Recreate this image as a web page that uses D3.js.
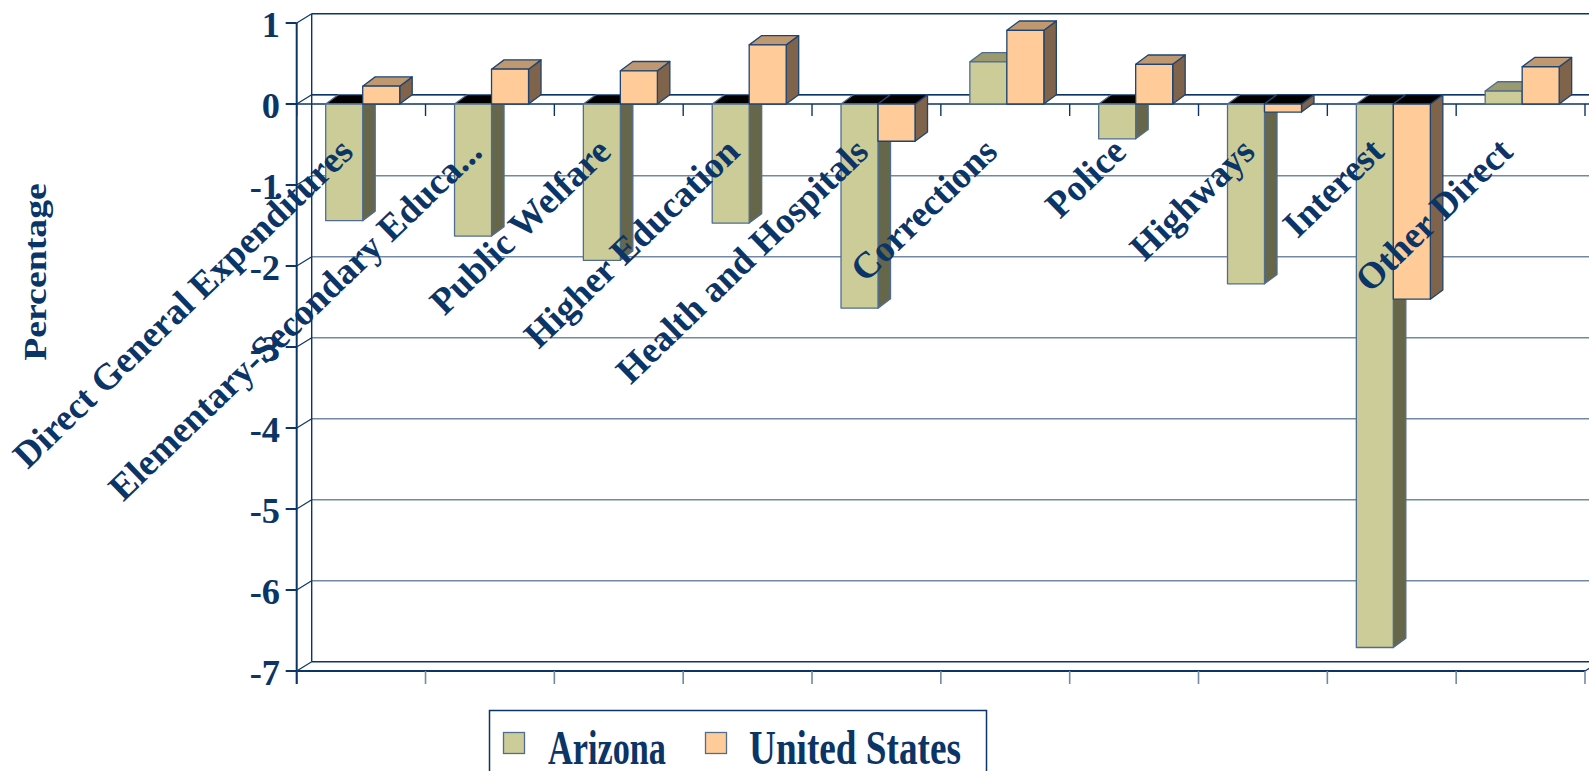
<!DOCTYPE html>
<html><head><meta charset="utf-8">
<script src="https://cdn.jsdelivr.net/npm/d3@7/dist/d3.min.js"></script>
<style>
html,body{margin:0;padding:0;background:#fff;overflow:hidden}
svg{display:block}
text{font-family:"Liberation Serif","Times New Roman",serif;font-weight:bold;fill:#0b3566}
</style></head>
<body>
<svg id="chart" width="1589" height="771"></svg>
<script>
const categories = ["Direct General Expenditures","Elementary-Secondary Educa...","Public Welfare","Higher Education","Health and Hospitals","Corrections","Police","Highways","Interest","Other Direct"];
const seriesNames = ["Arizona","United States"];
const arizona = [-1.44,-1.63,-1.93,-1.47,-2.52,0.52,-0.43,-2.22,-6.71,0.16];
const unitedStates = [0.22,0.43,0.41,0.73,-0.46,0.91,0.49,-0.10,-2.41,0.46];
const yTicks = [1,0,-1,-2,-3,-4,-5,-6,-7];
const yTickLabels = ["1","0","-1","-2","-3","-4","-5","-6","-7"];
const yTitle = "Percentage";

const svg = d3.select("#chart");
const navy = "#0b3566";
const gridC = "#7189a6";
const X0 = 296.7, X1 = 1585;
const WDX = 15, WDY = -9.3;   // wall depth
const BDX = 12.5, BDY = -9.3; // bar depth

const x = d3.scaleBand().domain(categories).range([X0, X1]).padding(0);
const xs = d3.scaleBand().domain(seriesNames).range([29, 29 + 74]).padding(0);
const y = d3.scaleLinear().domain([-7, 1]).range([671, 23]);

const colors = {
  "Arizona": {front:"#cccc99", side:"#66664a", top:"#9a9a6e", stroke:"#4f6d8f"},
  "United States": {front:"#ffcc99", side:"#7f634a", top:"#c09870", stroke:"#1f4470"}
};

const g = svg.append("g");

// back wall gridlines + left wall diagonals
yTicks.forEach(t => {
  const yy = y(t);
  const dark = (t === 1 || t === -7);
  g.append("line").attr("x1", X0 + WDX).attr("x2", X1 + WDX + 20)
    .attr("y1", yy + WDY).attr("y2", yy + WDY)
    .attr("stroke", dark ? navy : gridC).attr("stroke-width", 1.6);
  g.append("line").attr("x1", X0).attr("y1", yy).attr("x2", X0 + WDX).attr("y2", yy + WDY)
    .attr("stroke", navy).attr("stroke-width", 1.2);
});
g.append("line").attr("x1", X0 + WDX).attr("x2", X0 + WDX).attr("y1", y(1) + WDY).attr("y2", y(-7) + WDY)
  .attr("stroke", navy).attr("stroke-width", 1.4);

// zero plane
g.append("line").attr("x1", X0 + WDX).attr("x2", X1 + WDX + 20).attr("y1", y(0) + WDY).attr("y2", y(0) + WDY)
  .attr("stroke", navy).attr("stroke-width", 1.4);
g.append("line").attr("x1", X0).attr("x2", X1 + 20).attr("y1", y(0)).attr("y2", y(0))
  .attr("stroke", navy).attr("stroke-width", 1.6);
const bounds = categories.map(c => x(c)).concat([X1]);
bounds.forEach(bx => {
  g.append("line").attr("x1", bx).attr("x2", bx).attr("y1", y(0)).attr("y2", y(0) + 12)
    .attr("stroke", navy).attr("stroke-width", 1.4);
});

// floor
g.append("line").attr("x1", X0).attr("x2", X1).attr("y1", y(-7)).attr("y2", y(-7))
  .attr("stroke", navy).attr("stroke-width", 2);
g.append("line").attr("x1", X1).attr("y1", y(-7)).attr("x2", X1 + WDX).attr("y2", y(-7) + WDY)
  .attr("stroke", navy).attr("stroke-width", 1.2);
bounds.forEach(bx => {
  g.append("line").attr("x1", bx).attr("x2", bx).attr("y1", y(-7)).attr("y2", y(-7) + 13)
    .attr("stroke", gridC).attr("stroke-width", 1.6);
});

// front y axis
g.append("line").attr("x1", X0).attr("x2", X0).attr("y1", y(1)).attr("y2", y(-7) + 13)
  .attr("stroke", navy).attr("stroke-width", 2);
yTicks.forEach((t, i) => {
  g.append("line").attr("x1", X0 - 11).attr("x2", X0).attr("y1", y(t)).attr("y2", y(t))
    .attr("stroke", navy).attr("stroke-width", 2);
  g.append("text").attr("transform", `translate(280,${y(t) + 14}) scale(1.04,1.05)`).attr("text-anchor", "end")
    .attr("font-size", 35).text(yTickLabels[i]);
});

// bars
const data = categories.map((c, i) => ({c, vals: [arizona[i], unitedStates[i]]}));
const poly = pts => pts.map(p => p.join(",")).join(" ");
data.forEach(d => {
  d.vals.forEach((v, si) => {
    const s = seriesNames[si];
    const col = colors[s];
    const bx = x(d.c) + xs(s), w = xs.bandwidth();
    const y0 = y(0), yv = y(v);
    const top = Math.min(y0, yv), bot = Math.max(y0, yv);
    const bg = g.append("g").attr("stroke", col.stroke).attr("stroke-width", 1.3).attr("stroke-linejoin", "round");
    bg.append("polygon").attr("points", poly([[bx + w, top], [bx + w + BDX, top + BDY], [bx + w + BDX, bot + BDY], [bx + w, bot]]))
      .attr("fill", col.side);
    bg.append("polygon").attr("points", poly([[bx, top], [bx + BDX, top + BDY], [bx + w + BDX, top + BDY], [bx + w, top]]))
      .attr("fill", v < 0 ? "#000" : col.top);
    bg.append("rect").attr("x", bx).attr("y", top).attr("width", w).attr("height", bot - top)
      .attr("fill", col.front);
  });
});

// category labels
categories.forEach(c => {
  const cx = x(c) + x.bandwidth() / 2 - 6;
  g.append("text").attr("transform", `translate(${cx},154) rotate(-44)`)
    .attr("text-anchor", "end").attr("font-size", 37).text(c);
});

// y title
g.append("text").attr("transform", `translate(46,272) rotate(-90) scale(1.22,1)`)
  .attr("text-anchor", "middle").attr("font-size", 31).text(yTitle);

// legend
const lg = svg.append("g");
lg.append("rect").attr("x", 489.5).attr("y", 710.5).attr("width", 497).attr("height", 80)
  .attr("fill", "#fff").attr("stroke", navy).attr("stroke-width", 1.5);
const legX = [503.5, 705.5], legTX = [548, 749], legW = [118, 212];
seriesNames.forEach((s, i) => {
  lg.append("rect").attr("x", legX[i]).attr("y", 732.5).attr("width", 21).attr("height", 21)
    .attr("fill", colors[s].front).attr("stroke", "#4f6d8f").attr("stroke-width", 1.3);
  lg.append("text").attr("transform", `translate(${legTX[i]},764) scale(1,1.38)`)
    .attr("font-size", 35).attr("textLength", legW[i]).attr("lengthAdjust", "spacingAndGlyphs").text(s);
});
</script>
</body></html>
